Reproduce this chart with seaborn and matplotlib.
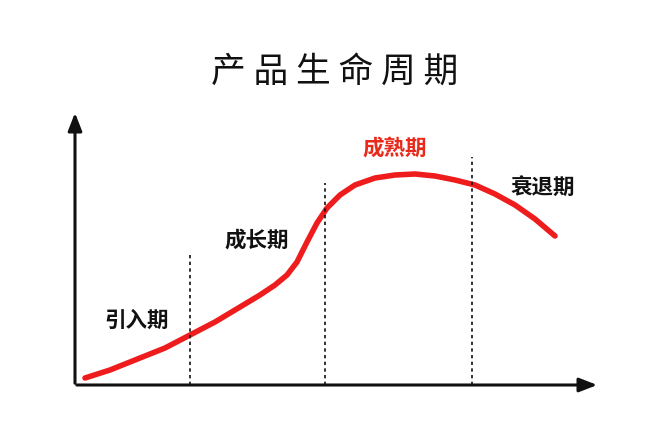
import matplotlib
matplotlib.use("Agg")
import matplotlib.pyplot as plt
import seaborn as sns
import pandas as pd

title = "产 品 生 命 周 期"
stage_labels = ["引入期", "成长期", "成熟期", "衰退期"]
stage_label_x = [62, 182, 320, 468]
stage_label_y = [65, 145, 237, 198]
stage_colors = ["#111111", "#111111", "#e8291c", "#111111"]
divider_x = [115, 250, 397]
divider_top = [130, 202, 228]

curve_x = [10, 35, 60, 90, 115, 140, 165, 185, 200, 212, 222, 232, 242, 252, 265, 280, 300, 320, 340, 360, 380, 400, 420, 440, 460, 480]
curve_y = [7, 15, 25, 37, 50, 63, 78, 90, 100, 110, 123, 143, 162, 177, 190, 200, 207, 210, 211, 209, 205, 200, 191, 180, 166, 149]

sns.set_theme(style="white")
plt.rcParams['font.family'] = ['Noto Sans CJK SC', 'DejaVu Sans']

fig = plt.figure(figsize=(6.5, 4.25), dpi=100)
ax = fig.add_axes([0, 0, 1, 1])
ax.set_xlim(-75, 575)
ax.set_ylim(-40, 385)
ax.axis("off")

df = pd.DataFrame({"x": curve_x, "y": curve_y})
sns.lineplot(data=df, x="x", y="y", ax=ax, color="#ee1c1c", lw=4, sort=False)

for x, t in zip(divider_x, divider_top):
    ax.plot([x, x], [0, t], ls=(0, (2, 2)), color="#111111", lw=1.2)

ax.annotate("", xy=(0, 275), xytext=(0, -1),
            arrowprops=dict(arrowstyle="-|>,head_width=0.35,head_length=0.9", color="#111111", lw=2.2))
ax.annotate("", xy=(525, 0), xytext=(-1, 0),
            arrowprops=dict(arrowstyle="-|>,head_width=0.35,head_length=0.9", color="#111111", lw=2.2))

for lab, x, y, c in zip(stage_labels, stage_label_x, stage_label_y, stage_colors):
    ax.text(x, y, lab, ha="center", va="center", fontsize=15.5, fontweight="bold", color=c)

fig.text(0.515, 0.83, title, ha="center", va="center", fontsize=25, color="#111111")
fig.savefig("out.png", dpi=100, facecolor="white")
